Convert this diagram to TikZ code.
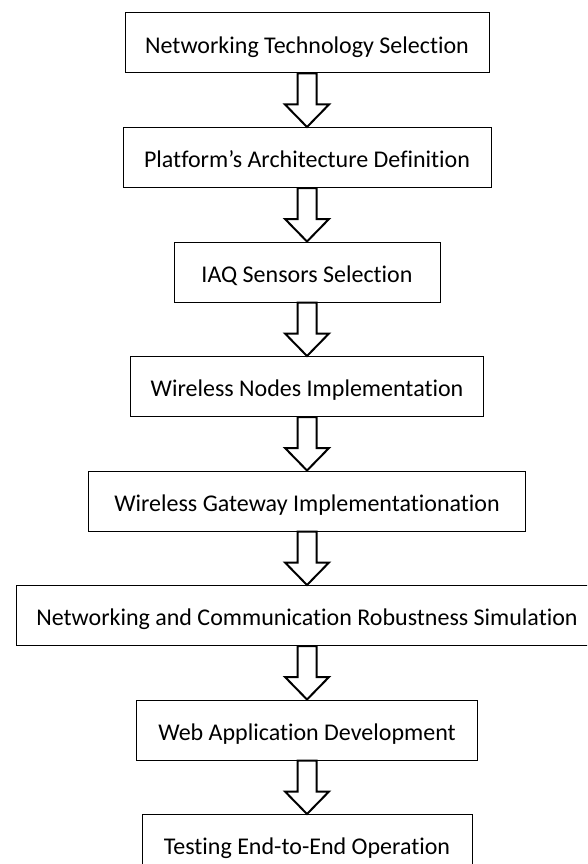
\documentclass[tikz,border=0pt]{standalone}
\usepackage{fontspec}
\setmainfont{Carlito}[Ligatures=NoCommon]
\usetikzlibrary{calc,positioning}

\begin{document}
\begin{tikzpicture}[
    x=1pt, y=1pt,
    node distance=53.5pt,
    stepbox/.style={
      draw,
      line width=1pt,
      minimum height=60pt,
      inner sep=0pt,
      text height=20.5pt,
      text depth=0pt,
      align=center,
      font=\fontsize{24}{28}\selectfont
    },
    blockarrow/.style={draw, fill=white, line width=2pt, line join=miter}
  ]
    \clip (0,0) rectangle (587,-864);

    \node[stepbox, minimum width=364pt] (tech) at (307,-43) {Networking Technology Selection};
    \node[stepbox, minimum width=368pt, below=of tech] (arch) {Platform’s Architecture Definition};
    \node[stepbox, minimum width=266pt, below=of arch] (iaq) {IAQ Sensors Selection};
    \node[stepbox, minimum width=353pt, below=of iaq] (nodes) {Wireless Nodes Implementation};
    \node[stepbox, minimum width=437pt, below=of nodes] (gateway) {Wireless Gateway Implementationation};
    \node[stepbox, minimum width=582pt, below=of gateway] (robust) {Networking and Communication Robustness Simulation};
    \node[stepbox, minimum width=341pt, below=of robust] (webapp) {Web Application Development};
    \node[stepbox, minimum width=330pt, below=of webapp] (testing) {Testing End-to-End Operation};

    % hollow block arrows between the steps
    \foreach \a/\b in {tech/arch, arch/iaq, iaq/nodes, nodes/gateway,
                       gateway/robust, robust/webapp, webapp/testing}
      \draw[blockarrow] ($(\a.south)+(-9.5,0)$) -- ($(\a.south)+(-9.5,-31)$)
        -- ($(\a.south)+(-22,-31)$) -- (\b.north)
        -- ($(\a.south)+(22,-31)$) -- ($(\a.south)+(9.5,-31)$)
        -- ($(\a.south)+(9.5,0)$) -- cycle;
  \end{tikzpicture}
\end{document}
